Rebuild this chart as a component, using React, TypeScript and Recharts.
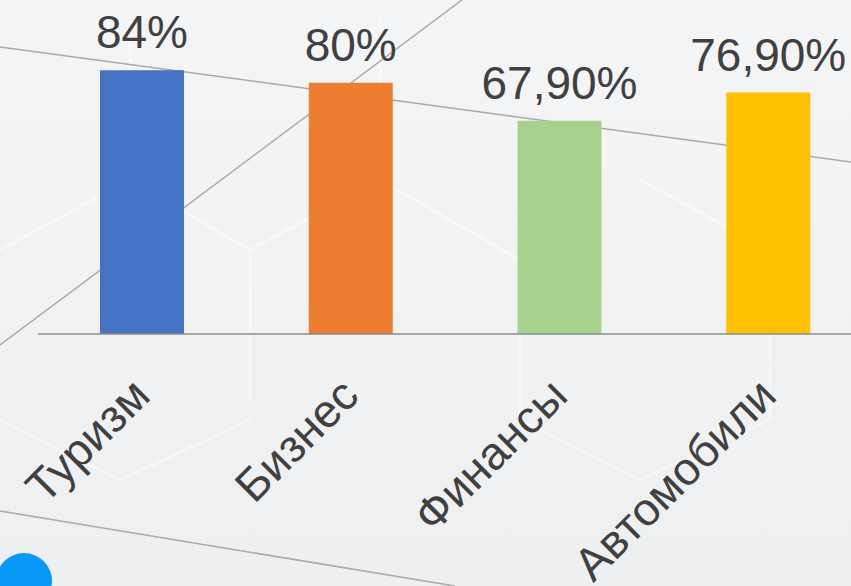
import React from "react";
import { BarChart, Bar, XAxis, YAxis, Cell, LabelList } from "recharts";

const categories = ["Туризм", "Бизнес", "Финансы", "Автомобили"];
const shares = [84, 80, 67.9, 76.9];
const barColors = ["#4472C4", "#ED7D31", "#A9D18E", "#FFC000"];

const data = categories.map((name, i) => ({ name, value: shares[i] }));

const formatShare = (v: number) =>
  `${v % 1 ? v.toFixed(2).replace(".", ",") : v}%`;

const FONT = "'Liberation Sans', Arial, sans-serif";
const TEXT = "#404040";

function RotatedTick(props: any) {
  const { x, y, payload } = props;
  return (
    <text
      transform={`translate(${x + 10},${y + 64}) rotate(-45)`}
      textAnchor="end"
      fontFamily={FONT}
      fontSize={46}
      fill={TEXT}
    >
      {payload.value}
    </text>
  );
}

function Backdrop() {
  // decorative slide background
  return (
    <svg
      width={851}
      height={586}
      style={{ position: "absolute", left: 0, top: 0 }}
    >
      <defs>
        <linearGradient id="bg" x1="0" y1="0" x2="0" y2="1">
          <stop offset="0%" stopColor="#f4f5f7" />
          <stop offset="100%" stopColor="#eeeff1" />
        </linearGradient>
      </defs>
      <rect width={851} height={586} fill="url(#bg)" />
      <g stroke="#ffffff" strokeOpacity={0.45} strokeWidth={3} fill="none">
        <path d="M0 250 L130 180 L250 250 L250 400" />
        <path d="M250 250 L380 180 L520 260 L520 420" />
        <path d="M640 180 L770 250 L770 420" />
        <path d="M130 180 L130 20" />
        <path d="M380 180 L380 20" />
        <path d="M0 420 L120 480 L250 420" />
        <path d="M520 420 L640 480 L770 420" />
      </g>
      <g stroke="#a9a9a9" strokeWidth={1.5}>
        <line x1={0} y1={47} x2={851} y2={162} />
        <line x1={0} y1={345} x2={462} y2={0} />
        <line x1={0} y1={511} x2={455} y2={586} />
      </g>
      <circle cx={24} cy={581} r={28} fill="#0a98f7" />
    </svg>
  );
}

export default function App() {
  return (
    <div
      style={{
        position: "absolute",
        left: 0,
        top: 0,
        width: 851,
        height: 586,
        overflow: "hidden",
      }}
    >
      <Backdrop />
      <div style={{ position: "absolute", left: 0, top: 0 }}>
        <BarChart
          width={873}
          height={586}
          data={data}
          margin={{ top: 20, right: 0, bottom: 222, left: 38 }}
        >
          <XAxis
            dataKey="name"
            height={30}
            axisLine={{ stroke: "#8c8c8c", strokeWidth: 1.5 }}
            tickLine={false}
            tickSize={0}
            tickMargin={0}
            interval={0}
            tick={<RotatedTick />}
          />
          <YAxis hide domain={[0, 100]} />
          <Bar dataKey="value" barSize={84} isAnimationActive={false}>
            {data.map((d, i) => (
              <Cell key={d.name} fill={barColors[i]} />
            ))}
            <LabelList
              dataKey="value"
              position="top"
              offset={22}
              formatter={(v: any) => formatShare(Number(v))}
              style={{ fontFamily: FONT, fontSize: 46, fill: TEXT }}
            />
          </Bar>
        </BarChart>
      </div>
    </div>
  );
}
